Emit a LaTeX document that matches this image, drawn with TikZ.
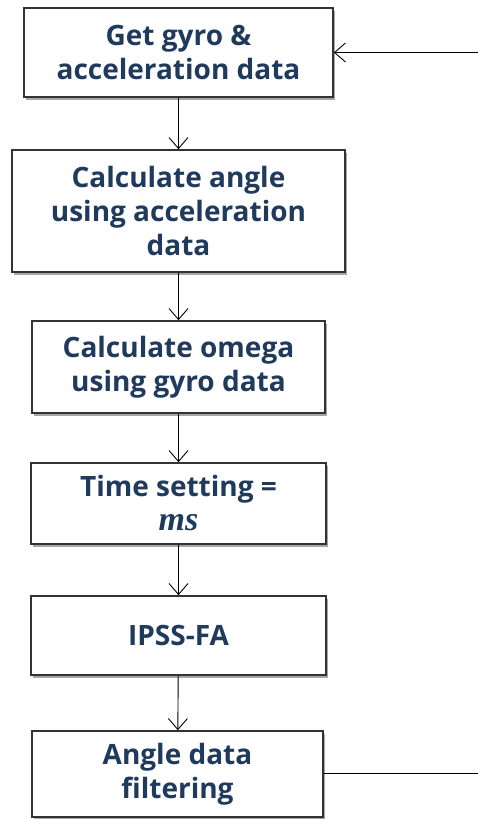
\documentclass[tikz,border=0pt]{standalone}
\usepackage{fontspec}
\setmainfont{Open Sans}
\newfontfamily\mathish{Liberation Serif}
\usetikzlibrary{arrows.meta,shadows}
\definecolor{boxtext}{HTML}{1F3A5C}
\definecolor{boxline}{HTML}{333333}
\begin{document}
\begin{tikzpicture}[x=1pt,y=-1pt,
  stepbox/.style={draw=boxline, line width=1.6pt, fill=white, align=center,
    inner sep=0pt, text=boxtext,
    font=\fontsize{28}{34}\selectfont\bfseries,
    drop shadow={shadow xshift=1.5pt, shadow yshift=-2.5pt, opacity=0.35, fill=black}},
  flow/.style={draw=black, line width=0.9pt, -{Straight Barb[length=11pt,width=19pt,line width=0.9pt]}}]
\useasboundingbox (0,0) rectangle (478,819);

\node[stepbox, minimum width=309pt, minimum height=89pt] (get) at (178.5,52.5)
  {Get gyro \&\\acceleration data};
\node[stepbox, minimum width=333pt, minimum height=122pt] (acc) at (178.5,211)
  {Calculate angle\\using acceleration\\data};
\node[stepbox, minimum width=293pt, minimum height=92pt] (omega) at (178.5,367)
  {Calculate omega\\using gyro data};
\node[stepbox, minimum width=295pt, minimum height=81pt] (time) at (178.5,503.5)
  {Time setting =\\{\mathish\fontsize{34}{34}\selectfont\bfseries\itshape ms}};
\node[stepbox, minimum width=295pt, minimum height=79pt] (ipss) at (178.5,635.5)
  {IPSS-FA};
\node[stepbox, minimum width=291pt, minimum height=86pt] (filt) at (177.5,774)
  {Angle data\\filtering};

\coordinate (loopin) at (478,52.5);
\coordinate (loopout) at (478,773);

\draw[flow] (get) -- (acc);
\draw[flow] (acc) -- (omega);
\draw[flow] (omega) -- (time);
\draw[flow] (time) -- (ipss);
\draw[flow] (ipss) -- (filt);
\draw[draw=black, line width=0.9pt] (filt.east |- loopout) -- (loopout);
\draw[flow] (loopin) -- (get.east |- loopin);
\end{tikzpicture}
\end{document}
